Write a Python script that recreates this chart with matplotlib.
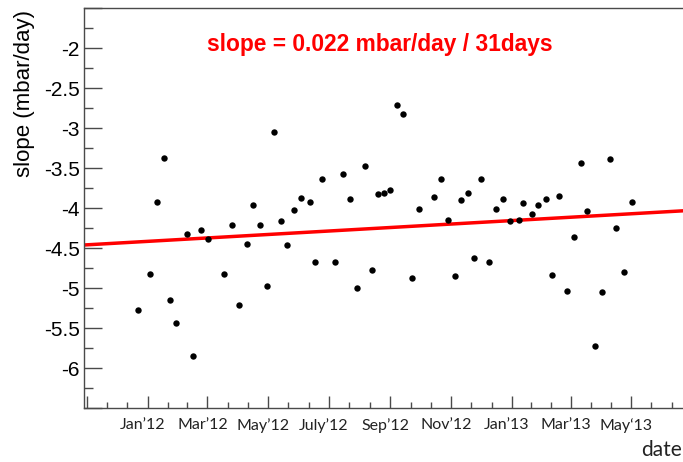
import matplotlib
matplotlib.use("Agg")
import numpy as np
import pandas as pd
import matplotlib.pyplot as plt
import matplotlib.dates as mdates
import matplotlib.transforms as mtransforms
from matplotlib.ticker import MultipleLocator, FixedLocator, FixedFormatter, FuncFormatter

# weekly slope values
dates = [
    "2011-12-22", "2012-01-03", "2012-01-10", "2012-01-17", "2012-01-23", "2012-01-29",
    "2012-02-10", "2012-02-16", "2012-02-24", "2012-03-02", "2012-03-18", "2012-03-26",
    "2012-04-02", "2012-04-10", "2012-04-16", "2012-04-23", "2012-04-30", "2012-05-07",
    "2012-05-14", "2012-05-20", "2012-05-27", "2012-06-03", "2012-06-12", "2012-06-17",
    "2012-06-24", "2012-07-07", "2012-07-15", "2012-07-22", "2012-07-29", "2012-08-06",
    "2012-08-13", "2012-08-19", "2012-08-26", "2012-09-01", "2012-09-08", "2012-09-14",
    "2012-09-23", "2012-09-30", "2012-10-15", "2012-10-22", "2012-10-29", "2012-11-05",
    "2012-11-11", "2012-11-18", "2012-11-24", "2012-12-01", "2012-12-09", "2012-12-16",
    "2012-12-23", "2012-12-30", "2013-01-08", "2013-01-12", "2013-01-21", "2013-01-27",
    "2013-02-04", "2013-02-10", "2013-02-17", "2013-02-25", "2013-03-04", "2013-03-11",
    "2013-03-18", "2013-03-26", "2013-04-02", "2013-04-10", "2013-04-16", "2013-04-24",
    "2013-05-02",
]
slopes = [
    -5.28, -4.83, -3.93, -3.37, -5.15, -5.44,
    -4.32, -5.85, -4.28, -4.39, -4.83, -4.21,
    -5.21, -4.45, -3.96, -4.21, -4.98, -3.05,
    -4.16, -4.46, -4.02, -3.88, -3.93, -4.68,
    -3.64, -4.67, -3.58, -3.89, -5.00, -3.47,
    -4.77, -3.82, -3.81, -3.78, -2.71, -2.82,
    -4.88, -4.01, -3.86, -3.64, -4.15, -4.85,
    -3.90, -3.81, -4.62, -3.64, -4.68, -4.01,
    -3.89, -4.16, -4.15, -3.94, -4.08, -3.96,
    -3.89, -4.84, -3.85, -5.04, -4.36, -3.44,
    -4.04, -5.73, -5.05, -3.39, -4.25, -4.80,
    -3.93,
]

# linear fit: 0.022 mbar/day per 31 days
fit_slope = 0.022 / 31
fit_ref_date = "2012-01-01"
fit_ref_value = -4.417

x_range = ["2011-10-29", "2013-06-22"]
y_range = [-6.5, -1.5]

month_ticks = ["2011-11-01", "2012-01-01", "2012-03-01", "2012-05-01", "2012-07-01",
               "2012-09-01", "2012-11-01", "2013-01-01", "2013-03-01", "2013-05-01",
               "2013-07-01"]
month_labels = ["", "Jan\u201912", "Mar\u201912", "May\u201912", "July\u201912",
                "Sep\u201912", "Nov\u201912", "Jan\u201913", "Mar\u201913", "May\u201813", ""]

plt.rcParams['axes.unicode_minus'] = False
axcol = "#4a4a4a"

fig = plt.figure(figsize=(6.83, 4.62), dpi=100)
ax = fig.add_axes([84 / 683, 54 / 462, 599 / 683, 400 / 462])

t = mdates.date2num(pd.to_datetime(dates))
ax.plot(t, slopes, "o", color="black", markersize=4.6, markeredgewidth=0, zorder=3)

xl = mdates.date2num(pd.to_datetime(x_range))
t0 = mdates.date2num(pd.Timestamp(fit_ref_date))
ax.plot(xl, fit_ref_value + fit_slope * (xl - t0), color="red", lw=2.5, zorder=2)

ax.set_xlim(xl)
ax.set_ylim(y_range)

# axes, ROOT style
for s in ["left", "bottom", "top"]:
    ax.spines[s].set_color(axcol)
    ax.spines[s].set_linewidth(1.0)
ax.spines["right"].set_visible(False)

ax.yaxis.set_major_locator(MultipleLocator(0.5))
ax.yaxis.set_minor_locator(MultipleLocator(0.25))
# no labels at the frame ends
ax.yaxis.set_major_formatter(FuncFormatter(
    lambda v, p: "" if min(abs(v - y_range[0]), abs(v - y_range[1])) < 1e-6 else "%g" % v))

major = mdates.date2num(pd.to_datetime(month_ticks))
minor = []
for a, b in zip(major[:-1], major[1:]):
    minor += [a + (b - a) / 3, a + 2 * (b - a) / 3]
ax.xaxis.set_major_locator(FixedLocator(major))
ax.xaxis.set_major_formatter(FixedFormatter(month_labels))
ax.xaxis.set_minor_locator(FixedLocator(minor))

ax.tick_params(axis="y", which="major", direction="in", length=13, width=1, color=axcol,
               labelsize=15, pad=3)
ax.tick_params(axis="y", which="minor", direction="in", length=6.5, width=1, color=axcol)
ax.tick_params(axis="x", which="major", direction="in", length=9, width=1, color=axcol,
               pad=7, labelcolor="#222222")
ax.tick_params(axis="x", which="minor", direction="in", length=4.5, width=1, color=axcol)

for lab in ax.get_yticklabels():
    lab.set_family("Liberation Sans")
offset = mtransforms.ScaledTranslation(-5 / 100, 0, fig.dpi_scale_trans)
for lab in ax.get_xticklabels():
    lab.set_family("Lato")
    lab.set_fontsize(11.5)
    lab.set_transform(lab.get_transform() + offset)

fig.text(25 / 683, 1 - 10 / 462, "slope (mbar/day)", rotation=90, ha="center", va="top",
         fontsize=16, family="Liberation Sans")
fig.text(380 / 683, 1 - 45 / 462, "slope = 0.022 mbar/day / 31days", ha="center", va="center",
         fontsize=16.4, color="red", weight="bold", family="Liberation Sans")
fig.text(682 / 683, 1 - 450 / 462, "date", ha="right", va="center", fontsize=15,
         family="Lato", color="#222222")

fig.savefig("out.png", dpi=100)
